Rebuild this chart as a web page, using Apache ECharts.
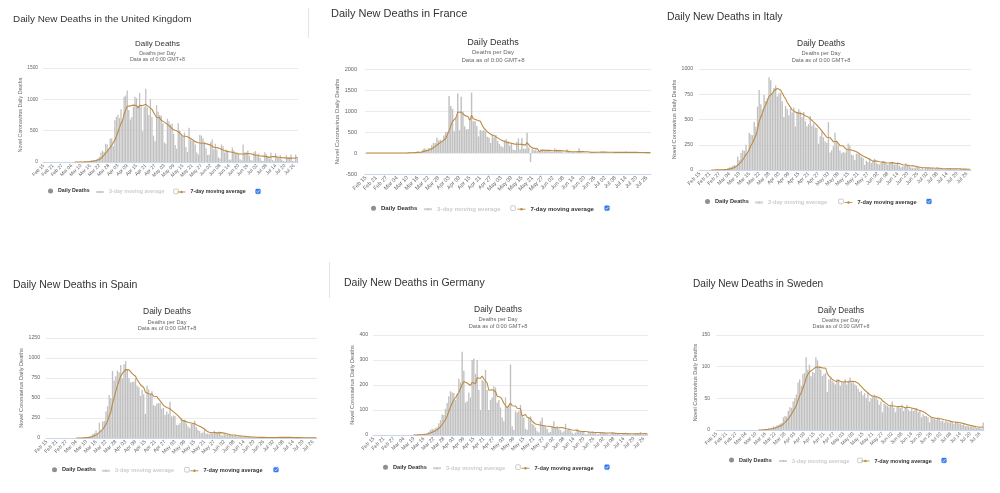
<!DOCTYPE html>
<html>
<head>
<meta charset="utf-8">
<title>Daily New Deaths</title>
<script src="https://cdn.jsdelivr.net/npm/echarts@6/dist/echarts.min.js"></script>
<style>
  html, body { margin: 0; padding: 0; background: #fff; }
  #main { width: 1000px; height: 493px; }
</style>
</head>
<body>
<div id="main"></div>
<script>
// ---- data: daily deaths Feb 15 .. Jul 28 (one row per month) ----
const MONTHS = ['Jan', 'Feb', 'Mar', 'Apr', 'May', 'Jun', 'Jul', 'Aug', 'Sep', 'Oct', 'Nov', 'Dec']
const dates = []
for (let i = 0; i < 165; i++) {
  const d = new Date(Date.UTC(2020, 1, 15 + i))
  dates.push(MONTHS[d.getUTCMonth()] + ' ' + String(d.getUTCDate()).padStart(2, '0'))
}

const ukDaily = [
  0,0,0,0,0,0,0,0,0,0,0,0,0,0,0,
  0,0,0,0,0,1,0,1,1,2,3,5,8,10,14,18,22,25,33,40,55,80,150,180,160,290,280,210,370,380,250,
  665,720,755,700,840,680,1040,1060,1140,830,680,720,880,1040,1020,880,1100,900,490,880,1170,870,750,1000,720,420,330,905,800,750,
  740,620,310,290,690,650,600,610,450,270,210,620,500,430,400,470,240,160,545,360,340,350,280,150,120,430,420,380,320,215,110,
  120,320,360,200,290,200,75,55,280,250,150,200,180,35,40,230,185,140,150,120,45,25,280,150,150,185,100,35,20,155,
  175,90,135,65,20,15,155,125,85,50,150,30,20,140,85,65,110,40,15,10,110,80,80,120,15,10,120,80
]
const ukAvg7 = [
  null,null,null,null,null,null,null,null,null,null,null,null,null,null,null,
  null,null,null,null,null,0.1,0.1,0.3,0.4,0.7,1.1,1.9,2.9,4.3,6.1,8.6,11.4,14.6,18.6,23,30,39,58,80,100,136,171,193,234,267,277,
  349,411,479,549,616,659,771,828,888,899,896,879,907,907,901,864,903,934,901,901,920,899,880,866,840,830,751,714,704,704,
  666,652,636,631,600,579,557,539,514,509,497,487,466,441,411,414,410,403,392,372,359,352,325,312,306,290,299,304,300,291,285,
  285,269,261,235,231,229,224,214,209,193,186,173,170,164,162,155,146,144,137,129,130,128,135,130,131,136,134,132,131,114,
  117,109,101,96,94,94,94,86,86,74,86,87,88,86,80,77,86,70,68,66,62,61,64,65,61,61,76,72
]

const frDaily = [
  1,0,0,0,0,0,0,0,0,0,0,0,1,0,0,
  0,0,1,1,0,2,3,2,8,0,14,15,13,18,12,36,21,27,89,108,78,112,112,186,240,231,365,299,319,292,418,
  499,509,1355,1120,1053,518,833,1417,541,1341,987,635,561,574,762,1438,753,761,642,395,547,531,544,516,389,369,242,437,367,427,
  289,218,166,135,306,330,278,178,243,80,70,263,348,83,351,104,96,483,131,-217,110,65,74,43,35,90,83,66,52,52,57,
  31,31,107,81,44,46,31,13,10,87,23,27,28,24,10,29,111,28,14,14,11,5,23,19,18,26,25,14,6,31,
  29,18,14,16,9,3,25,14,13,25,17,9,0,37,4,14,18,14,0,8,12,11,14,15,12,0,0,15
]
const frAvg7 = [
  0.1,0.1,0.1,0.1,0.1,0.1,0.1,0,0,0,0,0,0.1,0.1,0.1,
  0.1,0.1,0.3,0.4,0.3,0.6,1,1.3,2.4,2.3,4.1,6.3,7.9,10,11.4,15.4,18.4,20.3,30.9,44.4,53,67.3,78.1,101.7,132,152,189,221,250,276,309,
  346,386,527,645,749,782,841,972,977,975,956,896,902,865,772,900,816,783,784,761,757,724,596,562,509,470,448,433,409,392,
  360,336,307,291,273,267,246,230,234,221,212,206,209,181,205,186,188,247,228,147,151,110,106,98,34,29,71,65,63,60,62,
  62,53,57,59,58,57,53,50,47,45,36,34,31,30,30,33,36,37,35,33,31,30,29,16,15,17,18,19,19,20,
  21,21,20,18,18,17,16,14,13,15,15,15,15,16,15,15,14,14,12,14,10,11,11,11,10,10,9,10
]

const itDaily = [
  0,0,0,0,0,0,0,1,1,1,4,3,2,5,4,
  8,5,18,27,28,41,49,36,133,97,168,196,189,250,175,368,349,345,475,427,627,793,651,601,743,683,712,919,889,756,812,
  837,727,760,766,681,525,636,604,542,610,570,619,431,566,602,578,525,575,482,433,454,534,437,464,420,415,260,333,382,323,
  285,269,474,174,195,236,369,274,243,194,165,179,172,195,262,242,153,145,99,162,161,156,130,119,50,92,78,117,70,87,111,
  75,60,55,71,88,85,72,53,65,79,71,53,56,78,44,26,34,43,66,47,49,24,23,18,30,30,30,8,24,6,
  23,21,30,15,21,7,8,30,15,12,12,7,9,13,17,20,11,13,9,12,3,15,9,10,5,5,5,5
]
const itAvg7 = [
  null,null,null,null,null,null,null,0.1,0.3,0.4,1,1.4,1.7,2.4,2.9,
  3.9,4.4,6.4,9.9,13.6,18.7,25.1,29.1,47.4,58.7,78.9,103,124,153,173,206,242,267,307,341,395,483,524,560,617,646,687,729,743,758,788,
  801,807,814,792,763,730,705,671,645,623,595,587,573,563,563,568,556,557,537,537,521,512,491,483,461,451,426,409,387,371,
  345,324,332,320,300,279,286,284,281,241,239,237,228,203,201,201,195,193,181,180,175,160,144,139,125,124,112,106,94,88,86,
  90,85,82,76,78,78,72,69,70,73,73,68,64,65,64,58,52,48,50,48,44,41,41,39,37,32,29,23,23,21,
  22,20,20,18,20,18,18,19,18,15,15,13,13,14,12,13,13,13,13,14,12,12,10,10,9,8,7,8
]

const esDaily = [
  0,0,0,0,0,0,0,0,0,0,0,0,0,0,0,
  0,0,0,1,1,1,2,5,7,11,7,19,30,49,62,94,53,191,90,207,213,332,397,539,497,839,718,773,844,821,913,
  748,923,961,850,749,694,700,704,747,655,634,525,603,547,300,652,607,551,585,410,399,430,435,440,367,378,288,331,301,453,
  268,281,276,164,164,185,244,213,229,179,143,123,176,184,217,138,104,87,59,69,110,52,56,48,70,50,90,75,60,80,45,
  30,50,45,40,35,30,35,25,30,20,25,20,15,18,10,12,15,8,10,12,6,8,5,10,8,6,4,10,5,8,
  4,6,10,8,6,12,10,6,8,9,5,4,6,3,5,4,7,3,2,5,3,4,2,5,3,2,4,3
]
const esAvg7 = [
  null,null,null,null,null,null,null,null,null,null,null,null,null,null,null,
  null,null,null,0.1,0.3,0.4,0.7,1.4,2.4,4,4.9,7.4,11.6,18.3,26.4,38.9,45,71,81,107,130,169,212,281,325,432,505,585,658,719,772,
  808,820,855,866,852,834,804,797,772,728,698,666,653,631,573,559,553,541,549,522,501,519,488,464,438,408,391,381,363,365,
  341,329,314,296,272,256,226,218,211,197,194,188,187,178,179,166,155,147,138,123,112,88,77,69,66,65,68,63,64,68,67,
  61,61,55,50,46,39,38,37,34,31,29,26,24,22,20,17,16,14,13,12,10,10,9,8,8,8,7,7,7,7,
  6,6,7,7,7,8,8,8,9,8,8,8,7,6,6,5,5,5,4,4,4,4,4,3,3,3,3,3
]

const deDaily = [
  0,0,0,0,0,0,0,0,0,0,0,0,0,0,0,
  0,0,0,0,0,0,0,0,0,2,0,1,3,1,4,5,4,8,12,20,25,22,28,31,47,60,82,80,105,128,155,
  175,170,168,140,165,225,210,333,257,130,135,170,150,300,306,245,300,180,100,220,215,260,180,100,140,150,195,190,130,140,
  110,70,55,150,110,120,282,35,20,95,90,95,120,80,70,25,20,70,75,45,40,30,15,10,55,70,40,35,25,10,12,
  35,55,30,35,25,20,10,15,45,20,25,18,10,5,10,25,20,15,15,12,3,5,15,12,15,10,8,3,5,12,
  10,12,8,6,2,3,12,10,8,6,4,2,3,8,9,6,5,3,1,4,6,8,5,12,2,3,6,5
]
const deAvg7 = [
  null,null,null,null,null,null,null,null,null,null,null,null,null,null,null,
  null,null,null,null,null,null,null,null,null,0.3,0.3,0.4,0.9,1,1.6,2.3,2.6,3.7,5.3,7.7,11,14,17,21,26,33,42,50,62,76,94,
  112,128,140,149,157,171,179,202,214,209,208,209,198,211,207,205,229,236,226,236,224,217,208,179,174,181,177,174,155,149,
  151,141,127,121,109,108,128,117,110,116,107,105,105,76,81,82,71,69,66,55,49,44,42,41,39,38,37,36,36,35,35,
  32,30,29,29,29,30,30,27,26,24,23,22,20,20,19,16,16,15,14,15,14,14,12,11,11,10,10,10,10,9,
  9,9,8,8,8,8,8,8,7,7,6,6,6,6,6,5,5,5,5,5,5,5,5,6,5,6,6,6
]

const seDaily = [
  0,0,0,0,0,0,0,0,0,0,0,0,0,0,0,
  0,0,0,0,0,0,0,0,0,0,0,1,0,1,0,2,1,3,2,4,6,5,7,8,10,11,20,22,21,30,36,
  35,45,50,56,75,80,70,88,90,115,95,103,85,92,90,115,110,100,95,85,88,90,60,80,82,78,75,72,80,80,
  70,75,75,80,72,78,83,75,75,72,70,65,60,62,55,58,50,60,45,50,52,56,54,48,40,45,28,42,40,38,36,
  40,45,35,28,38,38,35,40,30,36,40,32,30,34,30,33,35,28,30,20,25,22,22,20,12,20,18,18,16,20,
  18,14,15,12,15,13,12,14,12,10,13,11,10,10,8,9,6,7,6,5,6,4,5,3,4,3,2,12
]
const seAvg7 = [
  null,null,null,null,null,null,null,null,null,null,null,null,null,null,null,
  null,null,null,null,null,null,null,null,null,null,null,0.1,0.1,0.3,0.3,0.6,0.7,1.1,1.3,1.9,2.6,3.3,4,5,6,7.3,9.6,11.9,14.1,17.4,21.4,
  25,29.9,34.1,39,46.7,53.9,58.7,66.3,72.7,82,87.6,91.6,92.3,95.4,95.7,99.3,98.6,99.3,98.1,98.1,97.6,97.6,89.7,85.4,82.9,80.4,79,76.7,75.3,78.1,
  76.7,75.7,75.3,76,76,75.7,76.1,76.9,76.9,76.4,75,74,71.4,68.4,65.6,63.1,60,58.6,55.7,54.3,52.9,53,52.4,52.1,49.3,49.3,46.1,44.7,42.4,40.1,38.4,
  38.4,38.4,39.4,37.4,37.1,37.1,37,37,34.9,35,36.7,35.9,34.7,34.6,33.1,33.6,33.4,31.7,31.4,30,28.7,27.6,26,23.9,21.6,20.1,19.9,18.9,18,17.7,
  17.4,17.7,17,16.1,15.7,15.3,14.1,13.6,13.3,12.6,12.7,12.1,11.7,11.4,10.6,10.1,9.6,8.7,8,7.3,6.7,6.1,5.6,5.1,4.7,4.3,3.9,4.7
]

// ---- layout of the six panels (page pixels) ----
const FONT = '"Liberation Sans", Arial, Helvetica, sans-serif'
const MA_COLOR = '#bd8a42'
const BAR_COLOR = '#c0c0c0'

const panels = [
  { country: 'the United Kingdom', daily: ukDaily, avg: ukAvg7, s: 0.44,
    head: [13, 19, 9.9], heading: [157.5, 44, 53.3, 60], grid: [43, 68, 298, 162],
    yRange: [0, 1500, 500], nameGap: 19, labelMargin: 5,
    legendY: 191, legendText: [58, 108, 190], checks: [176, 258] },
  { country: 'France', daily: frDaily, avg: frAvg7, s: 0.505,
    head: [331, 14, 11], heading: [493, 42, 52.7, 60], grid: [365, 69, 651, 174],
    yRange: [-500, 2000, 500], nameGap: 22, labelMargin: 8,
    legendY: 207.7, legendText: [381, 436, 530], checks: [513, 607] },
  { country: 'Italy', daily: itDaily, avg: itAvg7, s: 0.47,
    head: [667, 17, 10.4], heading: [821, 43.7, 53.3, 60.7], grid: [699, 69, 971, 170],
    yRange: [0, 1000, 250], nameGap: 21, labelMargin: 6,
    legendY: 201, legendText: [715, 767, 857], checks: [841, 929] },
  { country: 'Spain', daily: esDaily, avg: esAvg7, s: 0.47,
    head: [13, 285, 10.5], heading: [167, 311.7, 322, 328.7], grid: [46, 338, 317, 438],
    yRange: [0, 1250, 250], nameGap: 21, labelMargin: 6,
    legendY: 469.3, legendText: [62, 114, 203], checks: [187, 276] },
  { country: 'Germany', daily: deDaily, avg: deAvg7, s: 0.47,
    head: [344, 283, 10.5], heading: [498, 309.3, 319.3, 326], grid: [373, 335, 648, 435],
    yRange: [0, 400, 100], nameGap: 17, labelMargin: 5,
    legendY: 466.7, legendText: [393, 445, 534], checks: [518, 607] },
  { country: 'Sweden', daily: seDaily, avg: seAvg7, s: 0.455,
    head: [693, 284, 10.1], heading: [841, 310.7, 320, 326], grid: [716, 335, 984, 430],
    yRange: [0, 150, 50], nameGap: 11.5, labelMargin: 6,
    legendY: 460, legendText: [739, 791, 874], checks: [860, 944] }
]

const text = (x, y, str, size, color, align, weight) => ({
  type: 'text', x, y, silent: true,
  style: {
    text: str, fill: color, fontSize: size, fontFamily: FONT, fontWeight: weight || 'normal',
    align, textAlign: align, verticalAlign: 'middle', textVerticalAlign: 'middle'
  }
})

const checkbox = (cx, cy, checked) => {
  const els = [{
    type: 'rect', silent: true,
    shape: { x: cx - 2.3, y: cy - 2.3, width: 4.6, height: 4.6, r: 0.8 },
    style: checked ? { fill: '#3a7ff2', stroke: '#2f6fd8', lineWidth: 0.5 } : { fill: '#fff', stroke: '#a8a8a8', lineWidth: 0.6 }
  }]
  if (checked) {
    els.push({
      type: 'polyline', silent: true,
      shape: { points: [[cx - 1.4, cy], [cx - 0.4, cy + 1.1], [cx + 1.5, cy - 1.2]] },
      style: { stroke: '#fff', lineWidth: 0.7, fill: null }
    })
  }
  return els
}

const option = {
  animation: false,
  backgroundColor: '#fff',
  textStyle: { fontFamily: FONT },
  grid: [], xAxis: [], yAxis: [], series: [], legend: [],
  graphic: { elements: [] }
}
const g = option.graphic.elements

panels.forEach((p, i) => {
  const s = p.s
  const [gl, gt, gr, gb] = p.grid
  option.grid.push({ left: gl, top: gt, width: gr - gl, height: gb - gt, containLabel: false })
  option.xAxis.push({
    type: 'category', gridIndex: i, data: dates, boundaryGap: true,
    axisLine: { onZero: false, lineStyle: { color: '#ccd6eb', width: 1 } },
    axisTick: { show: false },
    axisLabel: { interval: 5, rotate: 45, fontSize: 11 * s, color: '#666', margin: 3, fontFamily: FONT },
    splitLine: { show: false }
  })
  option.yAxis.push({
    type: 'value', gridIndex: i, min: p.yRange[0], max: p.yRange[1], interval: p.yRange[2],
    name: 'Novel Coronavirus Daily Deaths', nameLocation: 'middle', nameRotate: 90, nameGap: p.nameGap,
    nameTextStyle: { fontSize: 12 * s, color: '#666', fontFamily: FONT },
    axisLabel: { fontSize: 11 * s, color: '#666', margin: p.labelMargin, fontFamily: FONT, formatter: v => String(v) },
    axisLine: { show: false }, axisTick: { show: false },
    splitLine: { lineStyle: { color: '#e6e6e6', width: 0.8 } }
  })
  option.series.push(
    { name: 'Daily Deaths', type: 'bar', xAxisIndex: i, yAxisIndex: i, data: p.daily,
      itemStyle: { color: BAR_COLOR }, barCategoryGap: '18%' },
    { name: '3-day moving average', type: 'line', xAxisIndex: i, yAxisIndex: i, data: [],
      symbol: 'circle', itemStyle: { color: '#ccc' }, lineStyle: { width: 1 } },
    { name: '7-day moving average', type: 'line', xAxisIndex: i, yAxisIndex: i, data: p.avg,
      symbol: 'circle', symbolSize: 3, showSymbol: false, connectNulls: false, z: 3,
      lineStyle: { color: MA_COLOR, width: 1.1 }, itemStyle: { color: MA_COLOR } }
  )

  // legend: one component per item so each sits where the original puts it
  const fs = 12 * s
  const items = [
    { data: [{ name: 'Daily Deaths', icon: 'circle', itemStyle: { color: '#8f8f8f' } }], w: 5, h: 5 },
    { data: ['3-day moving average'], w: 8, h: 3, selected: { '3-day moving average': false } },
    { data: ['7-day moving average'], w: 8, h: 3 }
  ]
  items.forEach((it, k) => {
    option.legend.push({
      left: p.legendText[k] - 5 - it.w, top: p.legendY - it.h / 2,
      itemWidth: it.w, itemHeight: it.h, itemGap: 0, padding: 0,
      data: it.data, selected: it.selected, inactiveColor: '#cccccc',
      lineStyle: { width: 0.9 },
      textStyle: { fontSize: fs, fontWeight: 'bold', color: '#333', fontFamily: FONT }
    })
  })
  g.push(...checkbox(p.checks[0], p.legendY + 0.4, false))
  g.push(...checkbox(p.checks[1], p.legendY + 0.4, true))

  // panel heading and chart titles
  g.push(text(p.head[0], p.head[1], 'Daily New Deaths in ' + p.country, p.head[2], '#333', 'left'))
  g.push(text(p.heading[0], p.heading[1], 'Daily Deaths', 18 * s, '#333', 'center'))
  g.push(text(p.heading[0], p.heading[2], 'Deaths per Day', 12 * s, '#666', 'center'))
  g.push(text(p.heading[0], p.heading[3], 'Data as of 0:00 GMT+8', 12 * s, '#666', 'center'))
})

// thin separators between the screenshots
g.push({ type: 'line', silent: true, shape: { x1: 308.5, y1: 8, x2: 308.5, y2: 38 }, style: { stroke: '#e4e4e4', lineWidth: 1 } })
g.push({ type: 'line', silent: true, shape: { x1: 329.5, y1: 262, x2: 329.5, y2: 298 }, style: { stroke: '#e4e4e4', lineWidth: 1 } })

const chart = echarts.init(document.getElementById('main'))
chart.setOption(option)
</script>
</body>
</html>
